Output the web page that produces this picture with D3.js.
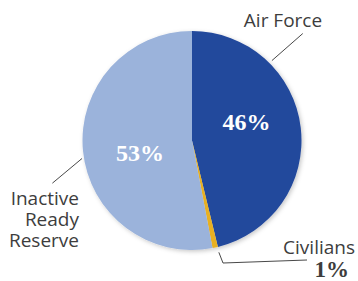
<!DOCTYPE html>
<html>
<head>
<meta charset="utf-8">
<script src="https://cdn.jsdelivr.net/npm/d3@7"></script>
<style>
  html, body { margin: 0; padding: 0; background: #fff; }
  svg { display: block; }
</style>
</head>
<body>
<div id="chart"></div>
<script>
// slices, clockwise from 12 o'clock
var categories = ["Air Force", "Civilians", "Inactive Ready Reserve"];
var shares = [46.2, 0.8, 53];
var pctLabels = ["46%", "1%", "53%"];
var colors = ["#22489c", "#e8b021", "#9bb3db"];

var w = 358, h = 281;
var cx = 192, cy = 140.5, r = 109.5;

var svg = d3.select("#chart").append("svg")
    .attr("width", w)
    .attr("height", h);

var defs = svg.append("defs");
var f = defs.append("filter").attr("id", "shadow")
    .attr("x", "-10%").attr("y", "-10%").attr("width", "120%").attr("height", "120%");
f.append("feDropShadow")
    .attr("dx", 1.5).attr("dy", 1.5).attr("stdDeviation", 2)
    .attr("flood-color", "#000").attr("flood-opacity", 0.22);

var pie = d3.pie().sort(null).value(function(d) { return d; });
var arcs = pie(shares);
var arc = d3.arc().innerRadius(0).outerRadius(r);

var g = svg.append("g").attr("transform", "translate(" + cx + "," + cy + ")");

g.append("g").attr("filter", "url(#shadow)")
  .selectAll("path")
  .data(arcs)
  .enter()
  .append("path")
  .attr("d", arc)
  .attr("fill", function(d, i) { return colors[i]; });

// polar helper (angle in degrees from 12 o'clock, clockwise)
function pt(deg, rad) {
    var a = deg * Math.PI / 180;
    return [Math.sin(a) * rad, -Math.cos(a) * rad];
}

// percentages inside the pie
var inside = [
    { i: 0, p: pt(70.8, 57.7) },
    { i: 2, p: pt(256, 53.6) }
];
g.selectAll("text.pct")
  .data(inside)
  .enter()
  .append("text")
  .attr("class", "pct")
  .attr("x", function(d) { return d.p[0]; })
  .attr("y", function(d) { return d.p[1] + 8; })
  .attr("text-anchor", "middle")
  .attr("fill", "#fff")
  .style("font-family", "'Liberation Serif', serif")
  .style("font-weight", "bold")
  .style("font-size", "24px")
  .text(function(d) { return pctLabels[d.i]; });

// leader lines
var leaders = [
    [pt(45, 113), pt(46, 154)],
    [pt(260.7, 111.5), pt(253, 146)],
    [pt(166.5, 115), [31, 122.5], [115, 119.5]]
];
g.selectAll("path.leader")
  .data(leaders)
  .enter()
  .append("path")
  .attr("class", "leader")
  .attr("d", d3.line())
  .attr("fill", "none")
  .attr("stroke", "#333")
  .attr("stroke-width", 0.9);

var labelFont = "'Open Sans', Lato, sans-serif";
var txt = svg.append("g")
    .attr("fill", "#3d3d3d")
    .style("font-family", labelFont)
    .style("font-size", "19px");

txt.append("text")
    .attr("x", 283).attr("y", 27)
    .attr("text-anchor", "middle")
    .text(categories[0]);

var reserveLines = ["Inactive", "Ready", "Reserve"];
txt.append("text")
    .attr("text-anchor", "end")
    .selectAll("tspan")
    .data(reserveLines)
    .enter()
    .append("tspan")
    .attr("x", 79)
    .attr("y", function(d, i) { return 205 + i * 21; })
    .text(function(d) { return d; });

txt.append("text")
    .attr("x", 355).attr("y", 254)
    .attr("text-anchor", "end")
    .text(categories[1]);

svg.append("text")
    .attr("x", 349).attr("y", 277)
    .attr("text-anchor", "end")
    .attr("fill", "#3d3d3d")
    .style("font-family", "'Liberation Serif', serif")
    .style("font-weight", "bold")
    .style("font-size", "23px")
    .text(pctLabels[1]);
</script>
</body>
</html>
